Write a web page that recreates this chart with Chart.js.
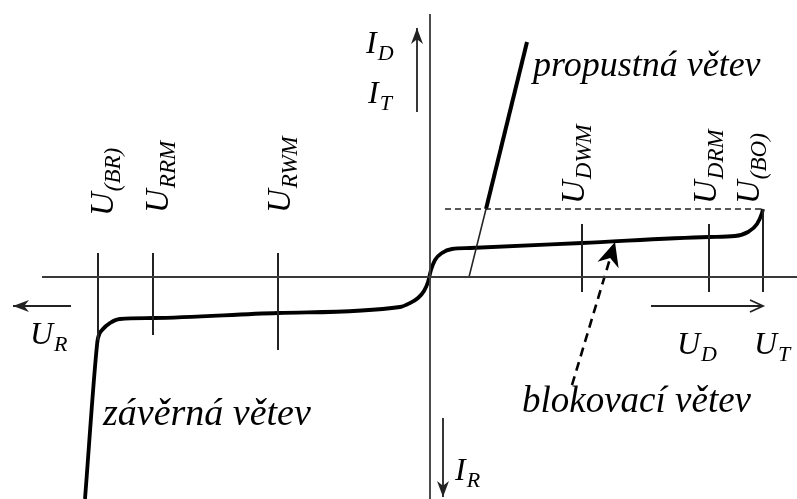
<!DOCTYPE html>
<html>
<head>
<meta charset="utf-8">
<script src="https://cdn.jsdelivr.net/npm/chart.js@4/dist/chart.umd.min.js"></script>
<style>
html, body { margin: 0; padding: 0; background: #fff; }
#wrap { width: 797px; height: 499px; position: relative; }
</style>
</head>
<body>
<div id="wrap"><canvas id="vac"></canvas></div>
<script>
// VA charakteristika tyristoru - schema, jednotky libovolne (pocatek U=0, I=0)
const curveU = [-345, -333, -332, -327, -320, -310, -277, -152, -30, -20, -12, -6, -2, 1, 5, 12, 22, 40, 152, 279, 305, 318, 327, 332, 333];
const curveI = [-222, -68, -61, -52, -46, -42, -41, -36, -30, -26, -21, -14, -5, 7, 17, 24, 28, 29, 34, 40, 41, 45, 53, 64, 68];

// propustna vetev (tenka a silna cast)
const fwdThinU = [39, 56];
const fwdThinI = [0, 68];
const fwdThickU = [56, 97];
const fwdThickI = [68, 235];

// U(BO) - prerusovana vodorovna
const boLineU = [15, 333];
const boLineI = [68, 68];

// svisle znacky napeti
const markU = [-332, -277, -152, 152, 279, 333];
const markTop = [24, 24, 24, 53, 53, 68];
const markBottom = [-63, -58, -73, -15, -15, -15];

// osy
const axisU = [-388, 367];
const axisI = [263, -222];

// sipky
const arrowUR = { u: [-359, -417], i: [-29, -29] };
const arrowUD = { u: [221, 333], i: [-29, -29] };
const arrowID = { u: [-13, -13], i: [165, 249] };
const arrowIR = { u: [13, 13], i: [-141, -220] };
const arrowBlok = { u: [142, 185], i: [-108, 35] };

// popisky
const symbols = [
  { main: 'U', sub: '(BR)', u: -317, i: 61, rot: true },
  { main: 'U', sub: 'RRM', u: -262, i: 64, rot: true },
  { main: 'U', sub: 'RWM', u: -140, i: 64, rot: true },
  { main: 'U', sub: 'DWM', u: 154, i: 73, rot: true },
  { main: 'U', sub: 'DRM', u: 286, i: 73, rot: true },
  { main: 'U', sub: '(BO)', u: 329, i: 73, rot: true },
  { main: 'U', sub: 'R', u: -400, i: -67 },
  { main: 'U', sub: 'D', u: 247, i: -77 },
  { main: 'U', sub: 'T', u: 324, i: -77 },
  { main: 'I', sub: 'D', u: -64, i: 224 },
  { main: 'I', sub: 'T', u: -62, i: 174 },
  { main: 'I', sub: 'R', u: 25, i: -203 }
];
const captions = [
  { text: 'propustná větev', u: 103, i: 201, size: 36 },
  { text: 'závěrná větev', u: -327, i: -148, size: 38 },
  { text: 'blokovací větev', u: 92, i: -135, size: 37 }
];

const pts = (us, is) => us.map((u, k) => ({ x: u, y: is[k] }));

function lineSet(data, width, color, extra) {
  return Object.assign({
    type: 'scatter', data, showLine: true, borderColor: color, borderWidth: width,
    pointRadius: 0, pointHoverRadius: 0, fill: false, tension: 0
  }, extra || {});
}

const datasets = [
  lineSet(pts(axisU, [0, 0]), 1.8, '#3a3a3a'),
  lineSet(pts([0, 0], axisI), 1.8, '#3a3a3a')
];
markU.forEach((u, k) => datasets.push(lineSet(pts([u, u], [markTop[k], markBottom[k]]), 2, '#222')));
datasets.push(lineSet(pts(boLineU, boLineI), 1.6, '#222', { borderDash: [6, 4] }));
datasets.push(lineSet(pts(fwdThinU, fwdThinI), 1.6, '#222'));
datasets.push(lineSet(pts(fwdThickU, fwdThickI), 4, '#000'));
datasets.push(lineSet(pts(curveU, curveI), 3.8, '#000', { cubicInterpolationMode: 'monotone' }));
datasets.push(lineSet(pts(arrowUR.u, arrowUR.i), 1.8, '#222', { arrow: { kind: 'filled', len: 16, half: 6 } }));
datasets.push(lineSet(pts(arrowUD.u, arrowUD.i), 1.8, '#222', { arrow: { kind: 'open', len: 13, half: 6 } }));
datasets.push(lineSet(pts(arrowID.u, arrowID.i), 1.8, '#222', { arrow: { kind: 'filled', len: 16, half: 6 } }));
datasets.push(lineSet(pts(arrowIR.u, arrowIR.i), 1.8, '#222', { arrow: { kind: 'filled', len: 16, half: 6 } }));
datasets.push(lineSet(pts(arrowBlok.u, arrowBlok.i), 2.6, '#000', { borderDash: [9, 6], arrow: { kind: 'filled', len: 24, half: 11 } }));

// sipky na konci car
const arrowHeads = {
  id: 'arrowHeads',
  afterDatasetsDraw(chart) {
    const ctx = chart.ctx;
    chart.data.datasets.forEach((ds, di) => {
      if (!ds.arrow) return;
      const el = chart.getDatasetMeta(di).data;
      const a = el[el.length - 2], b = el[el.length - 1];
      const ang = Math.atan2(b.y - a.y, b.x - a.x);
      const { len, half, kind } = ds.arrow;
      const bx = b.x - len * Math.cos(ang), by = b.y - len * Math.sin(ang);
      const px = -Math.sin(ang) * half, py = Math.cos(ang) * half;
      ctx.save();
      ctx.setLineDash([]);
      ctx.strokeStyle = ds.borderColor;
      ctx.fillStyle = ds.borderColor;
      ctx.lineWidth = 1.8;
      ctx.beginPath();
      if (kind === 'open') {
        ctx.moveTo(bx + px, by + py);
        ctx.lineTo(b.x, b.y);
        ctx.lineTo(bx - px, by - py);
        ctx.stroke();
      } else {
        ctx.moveTo(b.x, b.y);
        ctx.lineTo(bx + px, by + py);
        ctx.lineTo(bx + 0.3 * (b.x - bx), by + 0.3 * (b.y - by));
        ctx.lineTo(bx - px, by - py);
        ctx.closePath();
        ctx.fill();
      }
      ctx.restore();
    });
  }
};

// texty (popisky s indexy)
const labelsPlugin = {
  id: 'labels',
  afterDraw(chart) {
    const ctx = chart.ctx;
    const sx = chart.scales.x, sy = chart.scales.y;
    ctx.save();
    ctx.fillStyle = '#000';
    ctx.textBaseline = 'alphabetic';
    symbols.forEach(s => {
      const F = s.rot ? 33 : 32, f = s.rot ? 23 : 22;
      ctx.save();
      ctx.translate(sx.getPixelForValue(s.u), sy.getPixelForValue(s.i));
      if (s.rot) ctx.rotate(-Math.PI / 2);
      ctx.font = `italic ${F}px "Liberation Serif"`;
      ctx.fillText(s.main, 0, 0);
      const w = ctx.measureText(s.main).width;
      ctx.font = `italic ${f}px "Liberation Serif"`;
      ctx.fillText(s.sub, w + 1, F * 0.22);
      ctx.restore();
    });
    captions.forEach(c => {
      ctx.font = `italic ${c.size}px "Liberation Serif"`;
      ctx.fillText(c.text, sx.getPixelForValue(c.u), sy.getPixelForValue(c.i));
    });
    ctx.restore();
  }
};

new Chart(document.getElementById('vac'), {
  type: 'scatter',
  data: { datasets },
  plugins: [arrowHeads, labelsPlugin],
  options: {
    responsive: true,
    maintainAspectRatio: false,
    animation: false,
    layout: { padding: 0 },
    scales: {
      x: { type: 'linear', min: -430, max: 367, display: false },
      y: { type: 'linear', min: -222, max: 277, display: false }
    },
    plugins: { legend: { display: false }, tooltip: { enabled: false } },
    events: []
  }
});
</script>
</body>
</html>
